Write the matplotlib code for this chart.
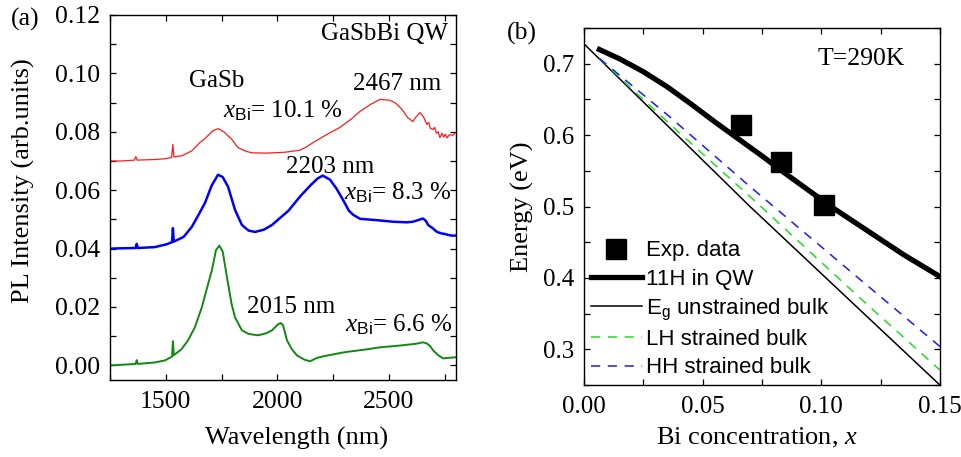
import matplotlib
matplotlib.use('Agg')
import matplotlib.pyplot as plt
from matplotlib.ticker import MultipleLocator, FormatStrFormatter

plt.rcParams['font.family'] = ['Liberation Serif', 'DejaVu Serif']
plt.rcParams['mathtext.fontset'] = 'custom'
plt.rcParams['mathtext.rm'] = 'Liberation Sans'
plt.rcParams['mathtext.it'] = 'Liberation Serif:italic'

# ---- panel (a): PL spectra ----
wl_red = [1250, 1300, 1360, 1366, 1372, 1450, 1500, 1526, 1532, 1536, 1573, 1617,
          1653, 1676, 1710, 1734, 1760, 1796, 1823, 1860, 1886, 1950, 2034, 2101,
          2130, 2160, 2220, 2280, 2330, 2370, 2420, 2460, 2504, 2530, 2549, 2565,
          2575, 2585, 2595, 2607, 2620, 2639, 2648, 2655, 2670, 2678, 2685, 2697,
          2705, 2712, 2720, 2728, 2737, 2745, 2752, 2760, 2770, 2787, 2800]
pl_red = [0.0700, 0.0700, 0.0703, 0.0715, 0.0703, 0.0705, 0.0708, 0.0712, 0.0757,
          0.0714, 0.0718, 0.0735, 0.0763, 0.0777, 0.0803, 0.0811, 0.0800, 0.0774,
          0.0746, 0.0733, 0.0728, 0.0727, 0.0730, 0.0737, 0.0748, 0.0763, 0.0790,
          0.0815, 0.0843, 0.0870, 0.0895, 0.0911, 0.0908, 0.0898, 0.0884, 0.0870,
          0.0858, 0.0848, 0.0842, 0.0835, 0.0850, 0.0866, 0.0858, 0.0850, 0.0825,
          0.0832, 0.0812, 0.0808, 0.0815, 0.0795, 0.0800, 0.0780, 0.0795, 0.0782,
          0.0792, 0.0779, 0.0790, 0.0788, 0.0798]

wl_blue = [1250, 1300, 1365, 1370, 1375, 1450, 1505, 1528, 1532, 1536, 1580, 1617,
           1650, 1676, 1705, 1734, 1755, 1779, 1810, 1841, 1870, 1900, 1940, 1976,
           2012, 2050, 2101, 2150, 2180, 2203, 2236, 2265, 2294, 2320, 2339, 2370,
           2450, 2518, 2580, 2607, 2640, 2652, 2665, 2675, 2695, 2715, 2735, 2750,
           2770, 2787, 2800]
pl_blue = [0.0400, 0.0401, 0.0402, 0.0416, 0.0402, 0.0405, 0.0415, 0.0422, 0.0470,
           0.0424, 0.0440, 0.0475, 0.0520, 0.0557, 0.0615, 0.0653, 0.0645, 0.0612,
           0.0533, 0.0481, 0.0462, 0.0457, 0.0465, 0.0481, 0.0505, 0.0530, 0.0578,
           0.0618, 0.0640, 0.0650, 0.0636, 0.0605, 0.0567, 0.0530, 0.0516, 0.0502,
           0.0497, 0.0492, 0.0490, 0.0492, 0.0500, 0.0503, 0.0495, 0.0481, 0.0470,
           0.0457, 0.0452, 0.0450, 0.0446, 0.0444, 0.0445]

wl_green = [1250, 1300, 1365, 1370, 1375, 1450, 1496, 1528, 1532, 1536, 1570, 1600,
            1630, 1662, 1690, 1707, 1725, 1740, 1755, 1779, 1795, 1810, 1841, 1870,
            1913, 1950, 1976, 2003, 2015, 2025, 2043, 2065, 2088, 2120, 2146, 2175,
            2204, 2300, 2400, 2460, 2550, 2620, 2652, 2670, 2685, 2697, 2720, 2742,
            2770, 2800]
pl_green = [0.0000, 0.0002, 0.0005, 0.0018, 0.0005, 0.0010, 0.0017, 0.0030, 0.0083,
            0.0035, 0.0055, 0.0086, 0.0130, 0.0200, 0.0280, 0.0327, 0.0395, 0.0410,
            0.0390, 0.0280, 0.0210, 0.0165, 0.0120, 0.0108, 0.0103, 0.0110, 0.0120,
            0.0141, 0.0145, 0.0138, 0.0086, 0.0055, 0.0034, 0.0020, 0.0014, 0.0025,
            0.0031, 0.0045, 0.0055, 0.0062, 0.0068, 0.0074, 0.0079, 0.0075, 0.0065,
            0.0052, 0.0035, 0.0024, 0.0026, 0.0028]

# ---- panel (b): energies vs Bi concentration ----
x_exp = [0.066, 0.083, 0.101]
e_exp = [0.614, 0.562, 0.502]
x_qw = [0.0065, 0.015, 0.025, 0.035, 0.045, 0.055, 0.065, 0.075, 0.085, 0.095,
        0.105, 0.115, 0.125, 0.135, 0.145, 0.15]
e_qw = [0.720, 0.707, 0.689, 0.668, 0.644, 0.619, 0.595, 0.571, 0.546, 0.522,
        0.498, 0.476, 0.454, 0.432, 0.412, 0.402]
x_eg = [0.0, 0.07, 0.15]
e_eg = [0.728, 0.500, 0.250]
x_lh = [0.0065, 0.0357, 0.0703, 0.1163, 0.15]
e_lh = [0.7075, 0.617, 0.513, 0.372, 0.271]
x_hh = [0.0065, 0.0357, 0.0689, 0.1163, 0.15]
e_hh = [0.7075, 0.627, 0.531, 0.398, 0.304]

fig = plt.figure(figsize=(9.62, 4.57), dpi=100)
ax1 = fig.add_axes([0.1143, 0.1685, 0.3597, 0.7987])
ax2 = fig.add_axes([0.607, 0.1575, 0.370, 0.781])


def style_axis(ax, size):
    for sp in ax.spines.values():
        sp.set_linewidth(1.0)
    ax.tick_params(which='both', direction='in', top=True, right=True,
                   length=4.5, width=0.9, labelsize=size, pad=7)


# panel (a)
ax1.plot(wl_red, pl_red, color='#ff1a1a', lw=0.9)
ax1.plot(wl_blue, pl_blue, color='#0000ff', lw=1.8)
ax1.plot(wl_green, pl_green, color='#0f8a0f', lw=1.4)
ax1.set_xlim(1250, 2800)
ax1.set_ylim(-0.005, 0.12)
ax1.xaxis.set_major_locator(MultipleLocator(500))
ax1.xaxis.set_minor_locator(MultipleLocator(250))
ax1.yaxis.set_major_locator(MultipleLocator(0.02))
ax1.yaxis.set_minor_locator(MultipleLocator(0.01))
ax1.yaxis.set_major_formatter(FormatStrFormatter('%.2f'))
style_axis(ax1, 18.5)
ax1.tick_params(axis='x', pad=8)
ax1.set_xlabel('Wavelength (nm)', fontsize=19)
ax1.set_ylabel('PL Intensity (arb.units)', fontsize=19)
ax1.xaxis.set_label_coords(0.54, -0.16)
ax1.xaxis.label.set_va('center')
ax1.yaxis.set_label_coords(-0.249, 0.545)
ax1.yaxis.label.set_va('center')

tk = dict(fontsize=18, ha='center', va='baseline')
ax1.text(1730, 0.0955, 'GaSb', **tk)
ax1.text(2478, 0.1115, 'GaSbBi QW', **tk)
ax1.text(2538, 0.0943, '2467 nm', **tk)
ax1.text(2025, 0.0849, r'$x_{\mathrm{Bi}}$= 10.1 %', **tk)
ax1.text(2236, 0.0660, '2203 nm', **tk)
ax1.text(2541, 0.0567, r'$x_{\mathrm{Bi}}$= 8.3 %', **tk)
ax1.text(2061, 0.0180, '2015 nm', **tk)
ax1.text(2545, 0.0115, r'$x_{\mathrm{Bi}}$= 6.6 %', **tk)

# panel (b)
ax2.plot(x_exp, e_exp, 's', color='black', ms=14, label='Exp. data')
ax2.plot(x_qw, e_qw, '-', color='black', lw=3.8, label='11H in QW')
ax2.plot(x_eg, e_eg, '-', color='black', lw=1.1,
         label=r'E$_{\mathrm{g}}$ unstrained bulk')
ax2.plot(x_lh, e_lh, '--', color='#22dd22', lw=1.1, dashes=(6, 5),
         label='LH strained bulk')
ax2.plot(x_hh, e_hh, '--', color='#1a1aff', lw=1.1, dashes=(6, 5),
         label='HH strained bulk')
ax2.set_xlim(0, 0.15)
ax2.set_ylim(0.25, 0.75)
ax2.xaxis.set_major_locator(MultipleLocator(0.05))
ax2.xaxis.set_minor_locator(MultipleLocator(0.025))
ax2.yaxis.set_major_locator(MultipleLocator(0.1))
ax2.yaxis.set_minor_locator(MultipleLocator(0.05))
ax2.xaxis.set_major_formatter(FormatStrFormatter('%.2f'))
ax2.yaxis.set_major_formatter(FormatStrFormatter('%.1f'))
style_axis(ax2, 18)
ax2.tick_params(axis='x', pad=8)
ax2.set_xlabel(r'Bi concentration, $x$', fontsize=19)
ax2.set_ylabel('Energy (eV)', fontsize=19)
ax2.xaxis.set_label_coords(0.486, -0.148)
ax2.xaxis.label.set_va('center')
ax2.yaxis.set_label_coords(-0.174, 0.5)
ax2.yaxis.label.set_va('center')
ax2.text(0.117, 0.6977, 'T=290K', fontsize=18.5, ha='center', va='baseline')

leg = ax2.legend(loc='lower left', bbox_to_anchor=(0.0, 0.0), frameon=False,
                 prop={'family': 'Liberation Sans', 'size': 16},
                 handlelength=2.3, handletextpad=0.2, labelspacing=0.32,
                 borderaxespad=0.1, borderpad=0.2, numpoints=1)

fig.text(0.026, 0.945, '(a)', fontsize=18.5, ha='center', va='baseline')
fig.text(0.5426, 0.9125, '(b)', fontsize=18.5, ha='center', va='baseline')

fig.savefig('out.png', dpi=100)
